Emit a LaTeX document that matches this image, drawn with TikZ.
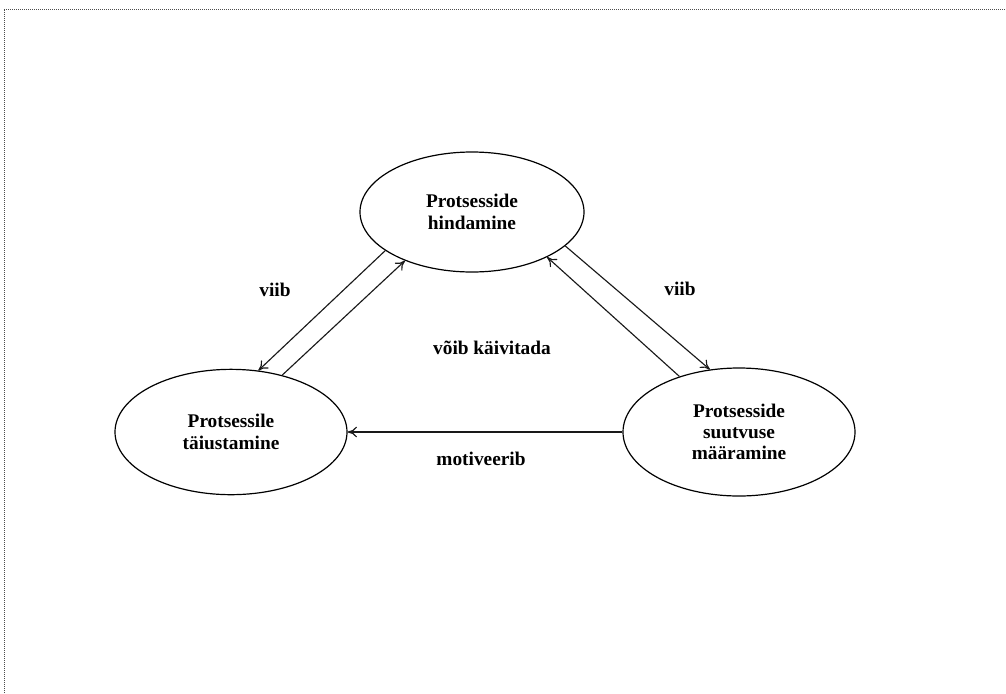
\documentclass[tikz,border=0pt]{standalone}
\usepackage{fontspec}
\setmainfont{Liberation Serif}
\usetikzlibrary{shapes.geometric,arrows.meta}
\begin{document}
\begin{tikzpicture}[x=0.75pt,y=-0.75pt,
  proc/.style={ellipse,draw=black,line width=0.9pt,inner sep=0pt,align=center,
    font=\fontsize{14.5}{16}\selectfont\bfseries},
  lbl/.style={font=\fontsize{14.5}{16}\selectfont\bfseries,inner sep=0pt},
  conn/.style={draw=black!90,line width=0.85pt,-{To[length=7pt,width=8pt]}},
  frameline/.style={draw=black!70,line width=0.75pt,dash pattern=on 0.75pt off 0.75pt}]
\useasboundingbox (0,0) rectangle (1006,693);
\coordinate (fa) at (4,693);
\coordinate (fb) at (4,9);
\coordinate (fc) at (1006,9);
\draw[frameline] (fa) -- (fb) -- (fc);

\node[proc,minimum width=168pt,minimum height=90pt] (top) at (472,212) {Protsesside\\hindamine};
\node[proc,minimum width=174pt,minimum height=94pt] (left) at (231,432) {Protsessile\\täiustamine};
\node[proc,minimum width=174pt,minimum height=96pt] (right) at (739,432) {Protsesside\\suutvuse\\määramine};

\draw[conn] (top.204.7) -- (left.66);
\draw[conn] (left.48) -- (top.216.7);
\draw[conn] (top.340.3) -- (right.115);
\draw[conn] (right.137) -- (top.329);
\draw[conn] (right.west) -- (left.east);

\node[lbl] (l1) at (275,290) {viib};
\node[lbl] (l2) at (680,289) {viib};
\node[lbl] (l3) at (492,348) {võib käivitada};
\node[lbl] (l4) at (481,459) {motiveerib};
\end{tikzpicture}
\end{document}
